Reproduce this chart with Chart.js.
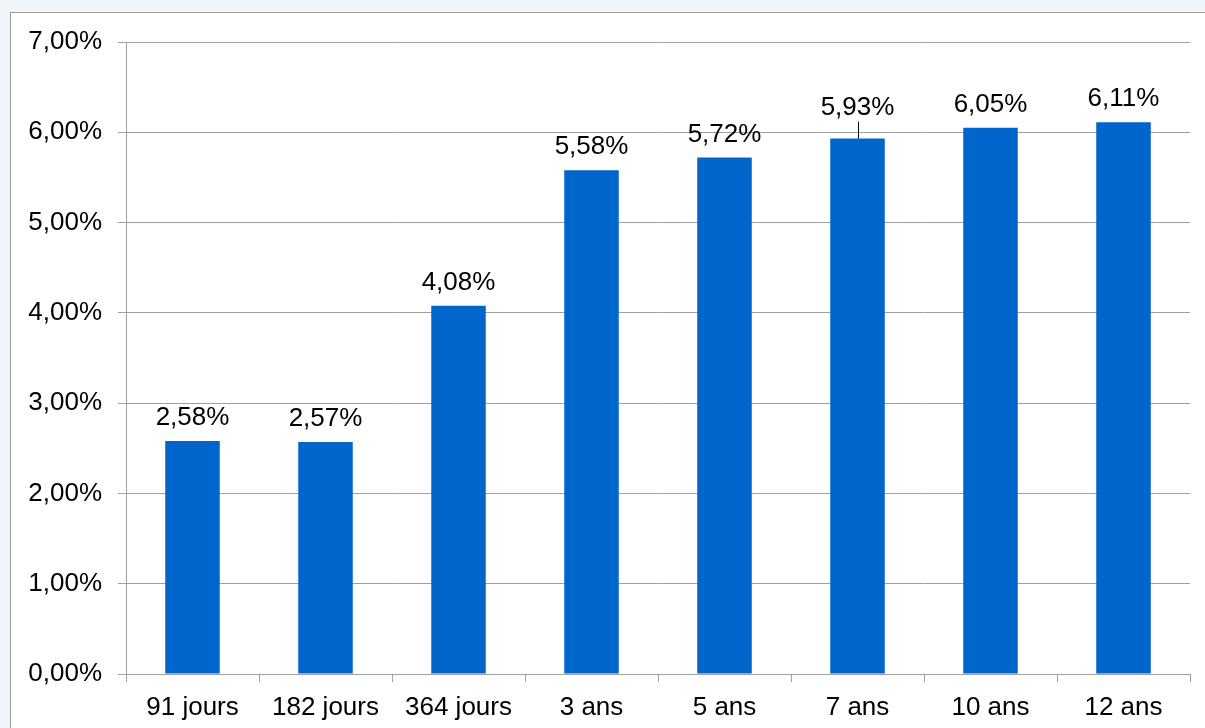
<!DOCTYPE html>
<html>
<head>
<meta charset="utf-8">
<script src="https://cdn.jsdelivr.net/npm/chart.js@4/dist/chart.umd.min.js"></script>
<style>
  html, body { margin: 0; padding: 0; background: #f1f4f8; }
  #frame {
    position: absolute; left: 10px; top: 12px; width: 1210px; height: 730px;
    background: #fff; border: 1px solid #9a9a9a; box-sizing: border-box;
  }
  #wrap { position: absolute; left: 0; top: 0; width: 1205px; height: 728px; }
</style>
</head>
<body>
<div id="frame"></div>
<div id="wrap"><canvas id="myChart"></canvas></div>
<script>
const categories = ["91 jours", "182 jours", "364 jours", "3 ans", "5 ans", "7 ans", "10 ans", "12 ans"];
const rates = [2.58, 2.57, 4.08, 5.58, 5.72, 5.93, 6.05, 6.11];
const yTicks = [0, 1, 2, 3, 4, 5, 6, 7];

const fmt = (v) => v.toFixed(2).replace(".", ",") + "%";

// Value labels above the bars; the 7 ans label is pushed up with a small leader line
const valueLabels = {
  id: "valueLabels",
  afterDatasetsDraw(chart) {
    const { ctx } = chart;
    const meta = chart.getDatasetMeta(0);
    ctx.save();
    ctx.font = "26px 'Liberation Sans', Arial, sans-serif";
    ctx.fillStyle = "#000";
    ctx.textAlign = "center";
    ctx.textBaseline = "alphabetic";
    meta.data.forEach((bar, i) => {
      const lifted = i === 5;
      const base = lifted ? bar.y - 24 : bar.y - 16;
      ctx.fillText(fmt(rates[i]), bar.x, base);
      if (lifted) {
        ctx.strokeStyle = "#000";
        ctx.lineWidth = 1;
        ctx.beginPath();
        ctx.moveTo(Math.round(bar.x) + 0.5, base + 7);
        ctx.lineTo(Math.round(bar.x) + 0.5, bar.y);
        ctx.stroke();
      }
    });
    ctx.restore();
  },
};

const ctx = document.getElementById("myChart");

new Chart(ctx, {
  type: "bar",
  data: {
    labels: categories,
    datasets: [
      {
        data: rates,
        backgroundColor: "#0066cc",
        borderWidth: 0,
        barPercentage: 0.82,
        categoryPercentage: 0.5,
      },
    ],
  },
  plugins: [valueLabels],
  options: {
    responsive: true,
    maintainAspectRatio: false,
    animation: false,
    layout: { padding: { top: 42, right: 15, left: 0, bottom: 0 } },
    plugins: {
      legend: { display: false },
      tooltip: { enabled: false },
    },
    scales: {
      x: {
        grid: {
          offset: true,
          drawOnChartArea: false,
          drawTicks: true,
          tickLength: 8,
          color: "#a0a0a0",
        },
        border: { color: "#a0a0a0" },
        ticks: {
          color: "#000",
          padding: 10,
          maxRotation: 0,
          font: { family: "'Liberation Sans', Arial, sans-serif", size: 26 },
        },
        afterFit: (s) => { s.height = 54; },
      },
      y: {
        min: 0,
        max: 7,
        afterBuildTicks: (s) => { s.ticks = yTicks.map((v) => ({ value: v })); },
        grid: { color: "#a0a0a0", tickLength: 8 },
        border: { color: "#a0a0a0" },
        ticks: {
          color: "#000",
          padding: 16,
          callback: (v) => fmt(v),
          font: { family: "'Liberation Sans', Arial, sans-serif", size: 26 },
        },
        afterFit: (s) => { s.width = 126; },
      },
    },
  },
});
</script>
</body>
</html>
